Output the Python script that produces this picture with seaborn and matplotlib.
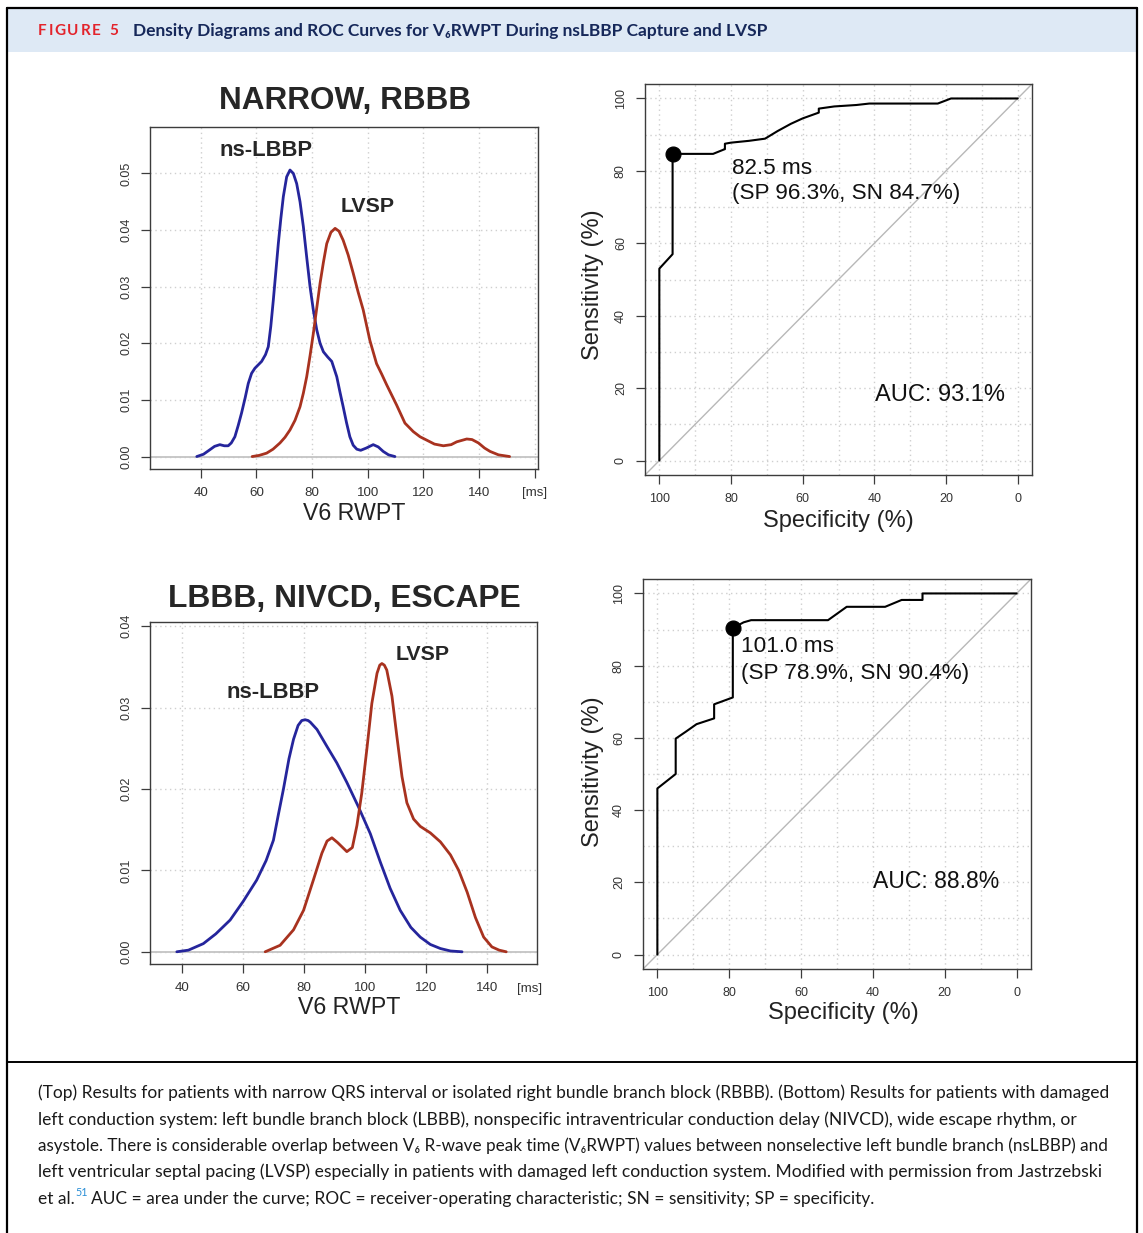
import numpy as np
import pandas as pd
import matplotlib
matplotlib.use("Agg")
import matplotlib.pyplot as plt
import seaborn as sns
from matplotlib.patches import Rectangle
from matplotlib.lines import Line2D
from matplotlib.ticker import MultipleLocator

# ---------------- DATA ----------------
# Top: narrow QRS / RBBB density curves (x in ms, y density)
top_ns_x = [38.6, 41, 43.3, 45, 46.9, 48.5, 49.9, 51, 52.3, 53.5, 54.7, 56, 57.1, 58.3, 59.5, 61.9, 63.3,
            64.3, 65.2, 66.1, 67, 67.9, 68.8, 69.7, 70.9, 72.1, 73.3, 74.5, 75.7, 76.9, 78.1, 79.3, 80.5,
            81.7, 82.9, 84.1, 85.6, 87.1, 88.9, 90, 91.2, 92.4, 93.6, 94.8, 96.1, 97.5, 99.5, 102, 103.8,
            105.6, 107.5, 109.8]
top_ns_y = [0, 0.0004, 0.0012, 0.0018, 0.0021, 0.0019, 0.0019, 0.0024, 0.0035, 0.0055, 0.0077, 0.0104,
            0.0129, 0.0147, 0.0156, 0.0168, 0.018, 0.0194, 0.023, 0.0276, 0.0326, 0.0376, 0.042, 0.0459,
            0.0494, 0.0506, 0.05, 0.0482, 0.045, 0.0406, 0.0352, 0.030, 0.0258, 0.0224, 0.02, 0.0185,
            0.0176, 0.0168, 0.0141, 0.0115, 0.0088, 0.006, 0.0035, 0.002, 0.0013, 0.0011, 0.0015, 0.0021,
            0.0017, 0.0009, 0.0003, 0]
top_lv_x = [58.5, 61, 63.7, 66, 68.5, 70.3, 72.1, 73.9, 75.7, 76.9, 78.1, 79.3, 80.5, 81.7, 82.9, 84.1,
            85.3, 86.8, 88.3, 89.7, 91.2, 93, 94.8, 96.6, 98.4, 100.8, 103.2, 105, 106.8, 108.6, 110.4,
            113.4, 116.4, 118.8, 121.2, 124, 127.2, 130, 132, 135.6, 137.5, 139.8, 142, 144, 147, 151]
top_lv_y = [0, 0.0002, 0.0006, 0.0013, 0.0024, 0.0034, 0.0047, 0.0064, 0.0088, 0.0112, 0.0141, 0.0178,
            0.0218, 0.0262, 0.0306, 0.0343, 0.0376, 0.0396, 0.0403, 0.0398, 0.0382, 0.0356, 0.0324,
            0.029, 0.0259, 0.0205, 0.0164, 0.0146, 0.0127, 0.0109, 0.0091, 0.0059, 0.0044, 0.0035,
            0.0029, 0.0022, 0.0019, 0.0021, 0.0026, 0.0031, 0.003, 0.0024, 0.0015, 0.0009, 0.0003, 0]

# Bottom: LBBB / NIVCD / escape density curves
bot_ns_x = [38.2, 42, 46.9, 51, 55.7, 60, 64.4, 67.5, 69.9, 71.5, 73.2, 75, 76.5, 78, 79.2, 80.3, 81.3,
            82, 84.2, 87.5, 90.7, 94, 97.8, 101.7, 105, 108.2, 111.5, 115, 118.1, 121.4, 124.7, 128, 131.8]
bot_ns_y = [0, 0.0002, 0.001, 0.0022, 0.0039, 0.0062, 0.0088, 0.0112, 0.0137, 0.0168, 0.02, 0.0237,
            0.0261, 0.0278, 0.0284, 0.0285, 0.0284, 0.0282, 0.0273, 0.0252, 0.0232, 0.0208, 0.0178,
            0.0145, 0.011, 0.0078, 0.0051, 0.003, 0.0018, 0.0009, 0.0004, 0.0001, 0]
bot_lv_x = [67.2, 72.1, 76.5, 79.8, 83, 85.8, 87.5, 89.1, 91, 94, 95.8, 97.3, 98.9, 100.6, 102.2, 103.9,
            104.8, 105.5, 106.3, 107.1, 108.8, 110.4, 112.1, 113.7, 115.9, 118.1, 121.4, 124.7, 128,
            130.7, 133.5, 136.2, 138.9, 141.6, 144, 146.3]
bot_lv_y = [0, 0.0008, 0.0027, 0.0051, 0.0088, 0.0121, 0.0136, 0.014, 0.0134, 0.0123, 0.0128, 0.0155,
            0.0195, 0.025, 0.0305, 0.0342, 0.0352, 0.0354, 0.0352, 0.0346, 0.0314, 0.0265, 0.0215,
            0.0183, 0.0163, 0.0154, 0.0146, 0.0135, 0.0119, 0.01, 0.0073, 0.0042, 0.0018, 0.0006,
            0.0002, 0]

# ROC curves (specificity %, sensitivity %)
roc_top_spec = [100, 100, 96.3, 96.3, 85, 82, 81.7, 81.7, 80, 75, 70.5, 67, 63.3, 60, 55.5, 55.5, 51.2,
                45, 41.4, 30, 22.3, 18.6, 10, 0]
roc_top_sens = [0, 53, 57, 84.7, 84.7, 85.9, 86, 87.5, 87.8, 88.3, 88.9, 91, 93, 94.5, 96.1, 97.2, 97.8,
                98.2, 98.6, 98.6, 98.6, 100, 100, 100]
roc_bot_spec = [100, 100, 94.9, 94.9, 92.1, 89.1, 84.2, 84.2, 79, 79, 76, 73.9, 52.5, 47.3, 36.6, 32,
                26.2, 26.2, 0]
roc_bot_sens = [0, 46, 50, 59.8, 61.7, 63.8, 65.4, 69.3, 71.2, 90.4, 92, 92.6, 92.6, 96.3, 96.3, 98.2,
                98.2, 100, 100]
cut_top = {"spec": [96.3], "sens": [84.7]}
cut_bot = {"spec": [78.9], "sens": [90.4]}

density_xticks = [40, 60, 80, 100, 120, 140]
roc_ticks = [0, 20, 40, 60, 80, 100]

# ---------------- STYLE ----------------
sns.set_theme(style="white")
plt.rcParams["font.family"] = ["Liberation Sans", "DejaVu Sans"]

W, H = 1143, 1233
fig = plt.figure(figsize=(W / 100, H / 100), dpi=100)
fig.patch.set_facecolor("white")

BLUE = "#25259c"
RED = "#a8321f"
TICKC = "#333333"
SPINE = "#3c3c3c"
GRIDC = "#cfcfcf"
PT = 72 / 100.0  # points per pixel


def fx(x):
    return x / W


def fy(y):
    return 1 - y / H


def ax_at(l, t, r, b):
    return fig.add_axes([fx(l), fy(b), (r - l) / W, (b - t) / H])


def ftext(x, y, s, **kw):
    return fig.text(fx(x), fy(y), s, **kw)


def style_axes(ax, lsize):
    for sp in ax.spines.values():
        sp.set_visible(True)
        sp.set_color(SPINE)
        sp.set_linewidth(1.0)
    ax.tick_params(axis="both", which="major", direction="out", length=9 * PT,
                   width=0.9, color=SPINE, labelsize=lsize, labelcolor=TICKC, pad=9 * PT,
                   bottom=True, left=True)
    ax.set_xlabel("")
    ax.set_ylabel("")


def density_panel(box, bx, by, rx, ry, xlim, ylim, yticks, ms_tick):
    ax = ax_at(*box)
    ax.set_xlim(*xlim)
    ax.set_ylim(*ylim)
    ax.grid(True, linestyle=(0, (1, 2.5)), color=GRIDC, linewidth=1.0)
    ax.set_axisbelow(True)
    ax.axhline(0, color="#c4c4c4", lw=1.3, zorder=1)
    d1 = pd.DataFrame({"x": bx, "y": by})
    d2 = pd.DataFrame({"x": rx, "y": ry})
    sns.lineplot(data=d1, x="x", y="y", ax=ax, color=BLUE, lw=2.0, sort=False, estimator=None, zorder=3)
    sns.lineplot(data=d2, x="x", y="y", ax=ax, color=RED, lw=2.0, sort=False, estimator=None, zorder=3)
    xt = list(density_xticks)
    xl = [str(v) for v in xt]
    if ms_tick:
        xt.append(160)
        xl.append("[ms]")
    ax.set_xticks(xt)
    ax.set_xticklabels(xl)
    ax.set_yticks(yticks)
    ax.set_yticklabels([f"{v:.2f}" for v in yticks])
    style_axes(ax, 9.6)
    for lab in ax.get_yticklabels():
        lab.set_rotation(90)
        lab.set_va("center")
        lab.set_fontsize(9.0)
    return ax


def roc_panel(box, spec, sens, cut):
    ax = ax_at(*box)
    ax.set_xlim(104, -4)
    ax.set_ylim(-4, 104)
    ax.xaxis.set_minor_locator(MultipleLocator(10))
    ax.yaxis.set_minor_locator(MultipleLocator(10))
    ax.tick_params(which="minor", length=0)
    ax.grid(True, which="both", linestyle=(0, (1, 2.5)), color=GRIDC, linewidth=1.0)
    ax.set_axisbelow(True)
    ax.axline((100, 0), (0, 100), color="#b8b8b8", lw=1.0, zorder=1)
    d = pd.DataFrame({"spec": spec, "sens": sens})
    sns.lineplot(data=d, x="spec", y="sens", ax=ax, color="black", lw=1.5, sort=False,
                 estimator=None, zorder=3)
    sns.scatterplot(data=pd.DataFrame(cut), x="spec", y="sens", ax=ax, color="black", s=115,
                    edgecolor="black", zorder=4)
    ax.set_xticks(roc_ticks)
    ax.set_yticks(roc_ticks)
    ax.set_xticklabels([str(v) for v in roc_ticks])
    ax.set_yticklabels([str(v) for v in roc_ticks])
    style_axes(ax, 9.0)
    for lab in ax.get_yticklabels():
        lab.set_rotation(90)
        lab.set_va("center")
    return ax


# ---------------- FRAME / HEADER ----------------
fig.patches.append(Rectangle((fx(8), fy(52)), (1136 - 8) / W, (52 - 9) / H, transform=fig.transFigure,
                             facecolor="#dee9f5", edgecolor="none", zorder=0))
fig.lines.append(Line2D([fx(7), fx(7)], [fy(8), fy(1240)], transform=fig.transFigure, color="black", lw=1.6))
fig.lines.append(Line2D([fx(1137), fx(1137)], [fy(8), fy(1240)], transform=fig.transFigure, color="black", lw=1.6))
fig.lines.append(Line2D([fx(7), fx(1137)], [fy(8), fy(8)], transform=fig.transFigure, color="black", lw=1.6))
fig.lines.append(Line2D([fx(7), fx(1137)], [fy(1062), fy(1062)], transform=fig.transFigure, color="black", lw=1.4))

renderer = fig.canvas.get_renderer()


def fit_width(t, target):
    w = t.get_window_extent(renderer).width
    t.set_fontsize(t.get_fontsize() * target / w)


HFONT = ["Lato", "DejaVu Sans"]
# letter-spaced "FIGURE 5"
xpos = 38.0
for ch in "FIGURE 5":
    tt = ftext(xpos, 31, ch, color="#e3232b", fontweight="bold", fontsize=11.0, family=HFONT,
               va="center", ha="left")
    xpos += tt.get_window_extent(renderer).width + 1.7
    if ch == " ":
        xpos += 2.0
t2 = ftext(133, 31, "Density Diagrams and ROC Curves for V\u2086RWPT During nsLBBP Capture and LVSP",
           color="#16285a", fontweight="bold", fontsize=12, family=HFONT, va="center", ha="left")
fit_width(t2, 634)

# ---------------- PANELS ----------------
density_panel((150, 127, 538, 469), top_ns_x, top_ns_y, top_lv_x, top_lv_y, (21.8, 161.2),
              (-0.0022, 0.0582), [0.0, 0.01, 0.02, 0.03, 0.04, 0.05], True)
density_panel((150, 622, 537, 964), bot_ns_x, bot_ns_y, bot_lv_x, bot_lv_y, (29.4, 156.4),
              (-0.0015, 0.0405), [0.0, 0.01, 0.02, 0.03, 0.04], False)
roc_panel((645, 84, 1032, 475), roc_top_spec, roc_top_sens, cut_top)
roc_panel((643, 579, 1031, 969), roc_bot_spec, roc_bot_sens, cut_bot)

# density texts
ftext(345, 101, "NARROW, RBBB", fontsize=22.7, fontweight="bold", ha="center", va="center")
ftext(344, 599, "LBBB, NIVCD, ESCAPE", fontsize=22.9, fontweight="bold", ha="center", va="center")
ftext(266, 151, "ns-LBBP", fontsize=15.8, fontweight="bold", ha="center", va="center")
ftext(368, 206, "LVSP", fontsize=15.4, fontweight="bold", ha="center", va="center")
ftext(273, 692, "ns-LBBP", fontsize=15.8, fontweight="bold", ha="center", va="center")
ftext(423, 654, "LVSP", fontsize=15.4, fontweight="bold", ha="center", va="center")
ftext(354, 513, "V6 RWPT", fontsize=16.7, ha="center", va="center", color="#222222")
ftext(349, 1008, "V6 RWPT", fontsize=16.7, ha="center", va="center", color="#222222")
ftext(530, 989, "[ms]", fontsize=9.6, ha="center", va="center", color=TICKC)

# ROC texts
for (yc, xc) in [(285, 593), (772, 593)]:
    ftext(xc, yc, "Sensitivity (%)", fontsize=17, rotation=90, ha="center", va="center", color="#222222")
ftext(838, 521, "Specificity (%)", fontsize=17, ha="center", va="center", color="#222222")
ftext(843, 1013, "Specificity (%)", fontsize=17, ha="center", va="center", color="#222222")
ftext(732, 168, "82.5 ms", fontsize=16.2, ha="left", va="center", color="#111111")
ftext(732, 194, "(SP 96.3%, SN 84.7%)", fontsize=16.2, ha="left", va="center", color="#111111")
ftext(875, 395, "AUC: 93.1%", fontsize=17, ha="left", va="center", color="#111111")
ftext(741, 647, "101.0 ms", fontsize=16.2, ha="left", va="center", color="#111111")
ftext(741, 673, "(SP 78.9%, SN 90.4%)", fontsize=16.2, ha="left", va="center", color="#111111")
ftext(873, 882, "AUC: 88.8%", fontsize=16.6, ha="left", va="center", color="#111111")

# ---------------- CAPTION ----------------
cap_lines = [
    "(Top) Results for patients with narrow QRS interval or isolated right bundle branch block (RBBB). (Bottom) Results for patients with damaged",
    "left conduction system: left bundle branch block (LBBB), nonspecific intraventricular conduction delay (NIVCD), wide escape rhythm, or",
    "asystole. There is considerable overlap between V\u2086 R-wave peak time (V\u2086RWPT) values between nonselective left bundle branch (nsLBBP) and",
    "left ventricular septal pacing (LVSP) especially in patients with damaged left conduction system. Modified with permission from Jastrzebski",
]
cap_right = [1106, 1070, 1106, 1100]
cap_y = [1093, 1120, 1146, 1172, 1199]
CFONT = ["Lato", "DejaVu Sans"]
sizes = []
for s, y, r in zip(cap_lines, cap_y[:4], cap_right):
    c = ftext(38, y, s, fontsize=12, family=CFONT, color="#1a1a1a", va="center", ha="left")
    fit_width(c, r - 38)
    sizes.append(c.get_fontsize())
cs = float(np.mean(sizes))
p1 = ftext(38, cap_y[4], "et al.", fontsize=cs, family=CFONT, color="#1a1a1a", va="center", ha="left")
e1 = p1.get_window_extent(renderer)
sup = fig.text(e1.x1 / W + 1 / W, fy(cap_y[4] - 6), "51", fontsize=cs * 0.62, family=CFONT,
               color="#2b8fd6", va="center", ha="left")
e2 = sup.get_window_extent(renderer)
fig.text(e2.x1 / W + 3 / W, fy(cap_y[4]),
         "AUC = area under the curve; ROC = receiver-operating characteristic; SN = sensitivity; SP = specificity.",
         fontsize=cs, family=CFONT, color="#1a1a1a", va="center", ha="left")

fig.savefig("out.png", dpi=100, facecolor="white")
